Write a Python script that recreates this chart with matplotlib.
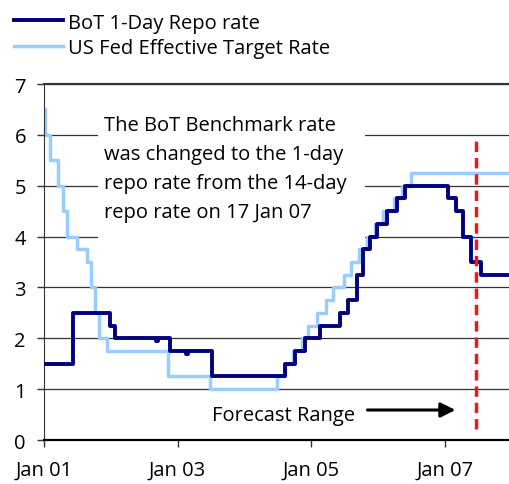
"""
BoT 1-day repo rate vs US Fed effective target rate, 2001-2007.
"""

import matplotlib
matplotlib.use("Agg")
import matplotlib.pyplot as plt
from matplotlib.patches import Rectangle

plt.rcParams["font.family"] = ["Open Sans", "DejaVu Sans"]
plt.rcParams["font.size"] = 14.5

# --- 数据 (decimal year at which each step starts) ---
bot_dates = [2001.0, 2001.44, 2001.99, 2002.06, 2002.67, 2002.71, 2002.89,
             2003.12, 2003.16, 2003.51, 2004.61, 2004.76, 2004.91, 2005.13,
             2005.43, 2005.55, 2005.69, 2005.77, 2005.88, 2005.98, 2006.13,
             2006.28, 2006.40, 2007.04, 2007.16, 2007.27, 2007.39, 2007.54,
             2007.96]
bot_rate = [1.5, 2.5, 2.25, 2.0, 1.95, 2.0, 1.75,
            1.70, 1.75, 1.25, 1.5, 1.75, 2.0, 2.25,
            2.5, 2.75, 3.25, 3.75, 4.0, 4.25, 4.5,
            4.75, 5.0, 4.75, 4.5, 4.0, 3.5, 3.25,
            3.25]

fed_dates = [2001.0, 2001.01, 2001.09, 2001.21, 2001.28, 2001.35, 2001.49,
             2001.64, 2001.70, 2001.76, 2001.83, 2001.94, 2002.85, 2003.48,
             2004.49, 2004.61, 2004.72, 2004.86, 2004.95, 2005.09, 2005.22,
             2005.33, 2005.49, 2005.60, 2005.72, 2005.83, 2005.95, 2006.08,
             2006.24, 2006.36, 2006.49, 2007.96]
fed_rate = [6.5, 6.0, 5.5, 5.0, 4.5, 4.0, 3.75,
            3.5, 3.0, 2.5, 2.0, 1.75, 1.25, 1.0,
            1.25, 1.5, 1.75, 2.0, 2.25, 2.5, 2.75,
            3.0, 3.25, 3.5, 3.75, 4.0, 4.25, 4.5,
            4.75, 5.0, 5.25, 5.25]

x_ticks = [2001, 2003, 2005, 2007]
x_labels = ["Jan 01", "Jan 03", "Jan 05", "Jan 07"]
y_ticks = [0, 1, 2, 3, 4, 5, 6, 7]

forecast_start = 2007.47
note = ("The BoT Benchmark rate\nwas changed to the 1-day\n"
        "repo rate from the 14-day\nrepo rate on 17 Jan 07")

fig = plt.figure(figsize=(5.09, 4.85), dpi=100)
ax = fig.add_axes([0.0864, 0.0907, 0.9136, 0.734])

ax.set_axisbelow(True)
ax.grid(axis="y", color="#333333", linewidth=0.9)

# white box behind the note (hides the gridlines)
ax.add_patch(Rectangle((0.116, 0.55), 0.575, 0.36, transform=ax.transAxes,
                       facecolor="white", edgecolor="none", zorder=1))

ax.plot(bot_dates, bot_rate, drawstyle="steps-post", color="#000080",
        linewidth=2.8, label="BoT 1-Day Repo rate", zorder=3)
ax.plot(fed_dates, fed_rate, drawstyle="steps-post", color="#99ccff",
        linewidth=2.5, label="US Fed Effective Target Rate", zorder=2)

ax.vlines(forecast_start, 0.22, 5.9, colors="#f01818", linewidth=2.5,
          linestyles=(0, (3.0, 1.7)), zorder=4)

ax.text(2001.9, 6.4, note, ha="left", va="top", linespacing=1.62,
        zorder=5)
ax.text(2005.66, 0.49, "Forecast Range", ha="right", va="center")
ax.annotate("", xy=(2007.2, 0.59), xytext=(2005.8, 0.59),
            arrowprops=dict(arrowstyle="-|>", color="black", lw=2.2,
                            mutation_scale=22))

ax.set_xlim(2001.0, 2007.96)
ax.set_ylim(0, 7)
ax.set_xticks(x_ticks)
ax.set_xticklabels(x_labels)
ax.set_yticks(y_ticks)
ax.tick_params(axis="both", direction="out", length=5, width=1, labelsize=14.5,
               color="#333333")
ax.tick_params(axis="x", pad=9)
ax.tick_params(axis="y", pad=8)

ax.spines["right"].set_visible(False)
ax.spines["top"].set_color("#333333")
ax.spines["top"].set_linewidth(1.5)
ax.spines["left"].set_color("#333333")
ax.spines["bottom"].set_linewidth(1.6)

fig.legend(loc="upper left", bbox_to_anchor=(0.005, 0.995), frameon=False,
           handlelength=2.45, handletextpad=0.25, labelspacing=0.28,
           borderaxespad=0.15)

plt.savefig("out.png", dpi=100)
